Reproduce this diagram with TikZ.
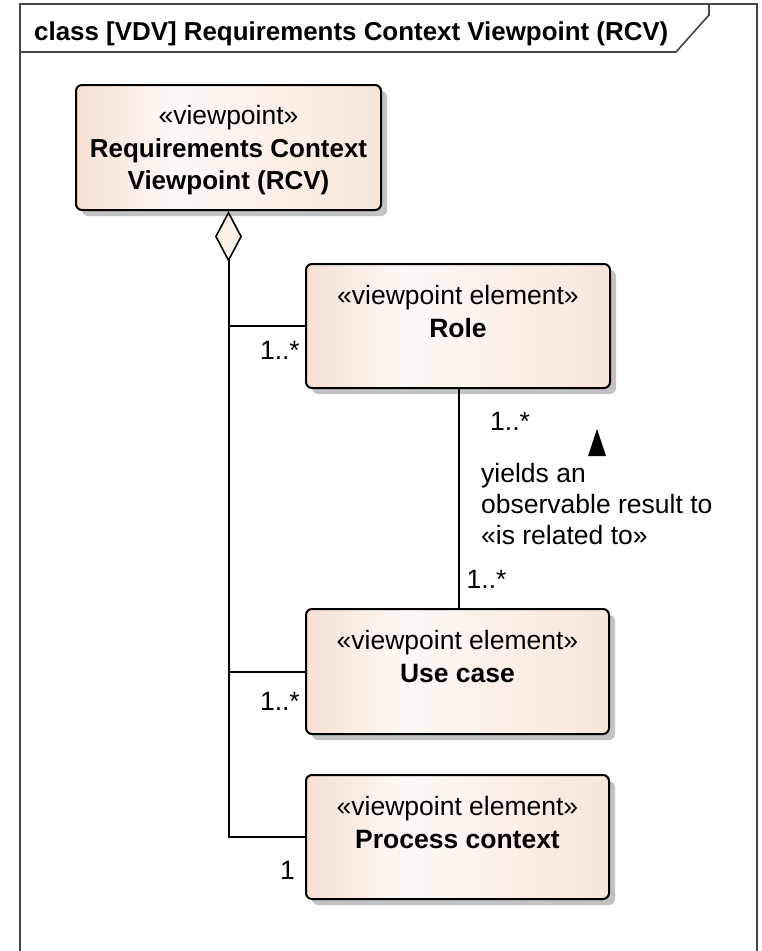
\documentclass[tikz,border=0pt]{standalone}
\usepackage{fontspec}
\setmainfont{Liberation Sans}
\usetikzlibrary{arrows.meta,shadows}

\definecolor{peachL}{RGB}{246,224,210}
\definecolor{peachM}{RGB}{253,249,246}
\definecolor{peachR}{RGB}{249,230,218}
\definecolor{diamondfill}{RGB}{251,241,230}
\definecolor{framegray}{RGB}{70,70,70}

% element fill: peach at the edges, almost white a third of the way in
\pgfdeclarehorizontalshading{elemshade}{100bp}{%
  color(0bp)=(peachL); color(25bp)=(peachL); color(41bp)=(peachM);
  color(75bp)=(peachR); color(100bp)=(peachR)}

\begin{document}
\begin{tikzpicture}[x=1pt,y=-1pt,
  elembox/.style={draw=black, line width=2pt, rounded corners=6pt,
    shade, shading=elemshade, inner sep=0pt,
    drop shadow={shadow xshift=6pt, shadow yshift=-6pt, fill=black!24, opacity=1}},
  elemtext/.style={align=center, inner sep=0pt,
    font=\fontsize{26.5}{32.5}\selectfont},
  conn/.style={draw=black, line width=2pt},
  mult/.style={inner sep=0pt, font=\fontsize{26.5}{31}\selectfont},
  framestyle/.style={draw=framegray, line width=1.6pt}
]
\useasboundingbox (0,0) rectangle (762,951);

% diagram frame with its name tab
\draw[framestyle] (20,955) -- (20,4) -- (757,4) -- (757,955);
\draw[framestyle] (20,52) -- (676,52) -- (709,15) -- (709,4);
\node[anchor=base west, inner sep=0pt,
  font=\fontsize{25.9}{32}\bfseries\selectfont] (title) at (34,40)
  {class [VDV] Requirements Context Viewpoint (RCV)};

% viewpoint and its elements
\node[elembox, minimum width=305pt, minimum height=125pt] (rcv) at (228.5,147.5) {};
\node[elemtext] (rcvText) at ([yshift=-3pt]rcv.center)
  {«viewpoint»\\\fontsize{26}{32}\bfseries\selectfont Requirements Context\\
   \fontsize{26}{32}\bfseries\selectfont Viewpoint (RCV)};

\node[elembox, minimum width=304pt, minimum height=124pt] (role) at (458,326) {};
\node[elemtext] (roleText) at ([yshift=-48.5pt]role.north)
  {«viewpoint element»\\\textbf{Role}};

\node[elembox, minimum width=303pt, minimum height=125pt] (uc) at (457.5,671.5) {};
\node[elemtext] (ucText) at ([yshift=-48.5pt]uc.north)
  {«viewpoint element»\\\textbf{Use case}};

\node[elembox, minimum width=303pt, minimum height=124pt] (pc) at (457.5,837) {};
\node[elemtext] (pcText) at ([yshift=-48.5pt]pc.north)
  {«viewpoint element»\\\textbf{Process context}};

% composition of the viewpoint
\draw[conn, {Diamond[length=51pt, width=27pt, fill=diamondfill, line width=1.6pt]}-]
  (rcv.south) -- (rcv.south |- pc.west) -- (pc.west);
\draw[conn] (role.west) -- (role.west -| rcv.south);
\draw[conn] (uc.west) -- (uc.west -| rcv.south);

\node[mult, anchor=east] (mRole) at ([xshift=-5pt, yshift=-24pt]role.west) {1..*};
\node[mult, anchor=east] (mUc) at ([xshift=-5pt, yshift=-30pt]uc.west) {1..*};
\node[mult, anchor=east] (mPc) at ([xshift=-10pt, yshift=-33pt]pc.west) {1};

% association between role and use case
\draw[conn] ([xshift=1pt]role.south) -- ([xshift=1.5pt]uc.north);
\node[mult, anchor=west] (mTop) at ([xshift=32pt, yshift=-32pt]role.south) {1..*};
\node[mult, anchor=west] (mBottom) at ([xshift=9pt, yshift=29pt]uc.north) {1..*};
\node[mult, anchor=west, align=left] (assocName) at (481,504)
  {yields an\\observable result to\\«is related to»};
\fill[black] (597,429) -- (606,456) -- (588,456) -- cycle;

\end{tikzpicture}
\end{document}
